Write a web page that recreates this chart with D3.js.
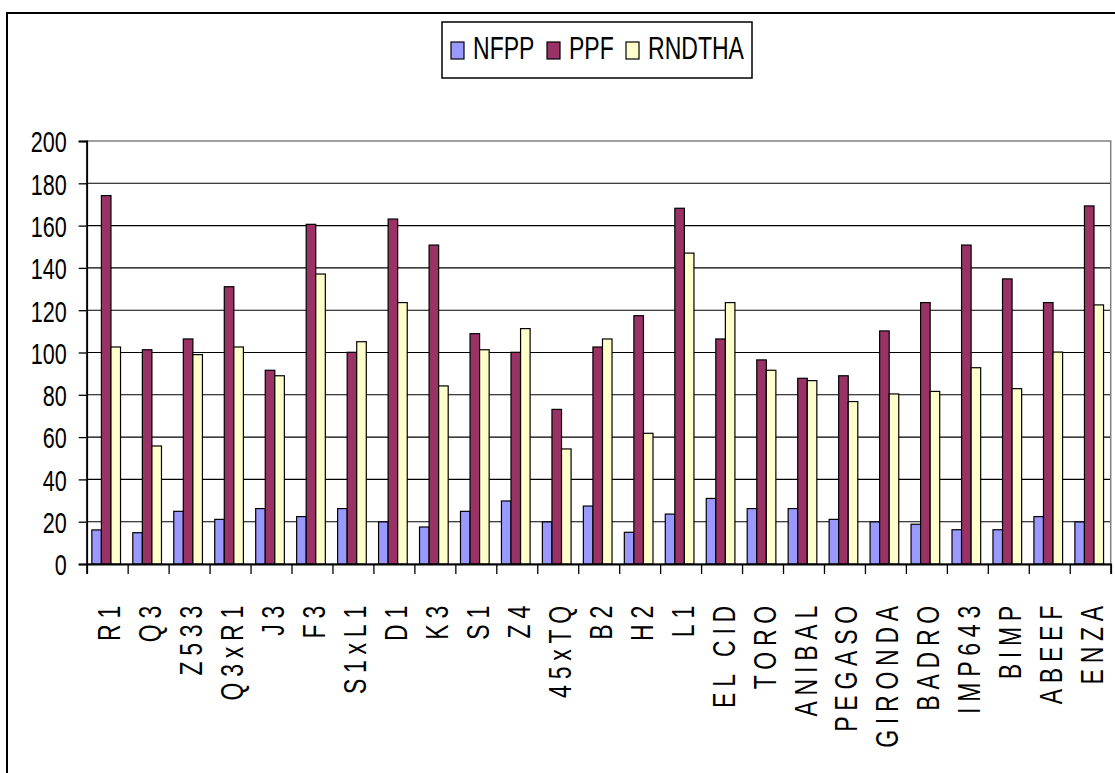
<!DOCTYPE html>
<html>
<head>
<meta charset="utf-8">
<script src="https://cdn.jsdelivr.net/npm/d3@7"></script>
<style>
  body { margin: 0; background: #fff; }
  svg { display: block; font-family: "Liberation Sans", Arial, sans-serif; }
</style>
</head>
<body>
<svg id="chart" width="1115" height="773"></svg>
<script>
var categories = ["R1", "Q3", "Z533", "Q3xR1", "J3", "F3", "S1xL1", "D1", "K3", "S1", "Z4", "45xTQ", "B2", "H2", "L1",
  "EL CID", "TORO", "ANIBAL", "PEGASO", "GIRONDA", "BADRO", "IMP643", "BIMP", "ABEEF", "ENZA"];

var seriesNames = ["NFPP", "PPF", "RNDTHA"];

var nfpp = [16.1, 14.8, 24.9, 21.1, 26.2, 22.4, 26.2, 19.9, 17.5, 24.9, 29.8, 19.9, 27.4, 15.0, 23.6,
  31.0, 26.2, 26.2, 21.1, 19.9, 18.8, 16.2, 16.2, 22.4, 19.9];
var ppf = [174.2, 101.3, 106.4, 131.1, 91.6, 160.6, 100.1, 163.1, 150.8, 108.9, 100.1, 73.1, 102.6, 117.4, 168.2,
  106.4, 96.5, 87.8, 89.0, 110.2, 123.6, 150.8, 134.8, 123.6, 169.3];
var rndtha = [102.6, 55.8, 99.0, 102.6, 89.0, 137.1, 105.1, 123.6, 84.2, 101.3, 111.3, 54.4, 106.4, 61.8, 147.0,
  123.6, 91.6, 86.7, 76.8, 80.4, 81.6, 92.8, 82.9, 100.2, 122.5];

var yTicks = [0, 20, 40, 60, 80, 100, 120, 140, 160, 180, 200];

var colors = ["#9999ff", "#993366", "#ffffcc"];
var squeeze = 0.72; // the original font is drawn narrow

var svg = d3.select("#chart");

// outer frame (only left and top edges are inside the picture)
svg.append("rect")
  .attr("x", 7).attr("y", 13)
  .attr("width", 1200).attr("height", 900)
  .attr("fill", "none").attr("stroke", "#000").attr("stroke-width", 2);

var plot = { left: 86.7, right: 1110.7, top: 141, bottom: 564 };

var x0 = d3.scaleBand()
  .domain(categories)
  .range([plot.left - 1, plot.right - 1])
  .paddingInner(0.3)
  .paddingOuter(0.15);

var x1 = d3.scaleBand()
  .domain(seriesNames)
  .range([0, x0.bandwidth()]);

var xEdges = d3.scaleLinear()
  .domain([0, categories.length])
  .range([plot.left, plot.right]);

var y = d3.scaleLinear()
  .domain([0, 200])
  .range([plot.bottom, plot.top]);

// gridlines
svg.append("g")
  .selectAll("line")
  .data(yTicks.filter(function (d) { return d > 0 && d < 200; }))
  .join("line")
  .attr("x1", plot.left).attr("x2", plot.right)
  .attr("y1", function (d) { return y(d); })
  .attr("y2", function (d) { return y(d); })
  .attr("stroke", "#000").attr("stroke-width", 1.1);

// plot area border
svg.append("rect")
  .attr("x", plot.left).attr("y", plot.top)
  .attr("width", plot.right - plot.left).attr("height", plot.bottom - plot.top)
  .attr("fill", "none").attr("stroke", "#808080").attr("stroke-width", 1.5);

// bars
var rows = categories.map(function (c, i) {
  return { cat: c, values: [nfpp[i], ppf[i], rndtha[i]] };
});

svg.append("g")
  .selectAll("g")
  .data(rows)
  .join("g")
  .attr("transform", function (d) { return "translate(" + x0(d.cat) + ",0)"; })
  .selectAll("rect")
  .data(function (d) {
    return d.values.map(function (v, k) { return { name: seriesNames[k], value: v, k: k }; });
  })
  .join("rect")
  .attr("x", function (d) { return x1(d.name); })
  .attr("y", function (d) { return y(d.value); })
  .attr("width", x1.bandwidth())
  .attr("height", function (d) { return y(0) - y(d.value); })
  .attr("fill", function (d) { return colors[d.k]; })
  .attr("stroke", "#000")
  .attr("stroke-width", 1.2);

// y axis
var yAxis = svg.append("g")
  .attr("transform", "translate(" + plot.left + ",0)")
  .call(d3.axisLeft(y).tickValues(yTicks).tickSize(8).tickPadding(12).tickFormat(d3.format("d")));
yAxis.select(".domain").attr("stroke", "#000").attr("stroke-width", 1.8);
yAxis.selectAll(".tick line").attr("stroke", "#000").attr("stroke-width", 1.3);
yAxis.selectAll(".tick text")
  .attr("fill", "#000")
  .attr("font-size", 30)
  .attr("dy", "0.36em")
  .attr("transform", function () {
    var tx = +d3.select(this).attr("x");
    return "translate(" + tx + ",0) scale(" + squeeze + ",1) translate(" + (-tx) + ",0)";
  });

// x axis: ticks between categories
var xAxis = svg.append("g")
  .attr("transform", "translate(0," + plot.bottom + ")")
  .call(d3.axisBottom(xEdges).tickValues(d3.range(0, categories.length + 1)).tickSize(10).tickFormat(""));
xAxis.select(".domain").attr("stroke", "#000").attr("stroke-width", 1.8);
xAxis.selectAll(".tick line").attr("stroke", "#000").attr("stroke-width", 1.3);

// category labels, rotated
svg.append("g")
  .selectAll("text")
  .data(categories)
  .join("text")
  .attr("transform", function (d) {
    var cx = x0(d) + x0.bandwidth() / 2 + 2.5;
    return "translate(" + cx + ",600) rotate(-90) scale(" + squeeze + ",1)";
  })
  .attr("text-anchor", "end")
  .attr("dy", "0.36em")
  .attr("font-size", 32)
  .attr("letter-spacing", 8)
  .attr("fill", "#000")
  .text(function (d) { return d; });

// legend
var legend = svg.append("g");
legend.append("rect")
  .attr("x", 442).attr("y", 22)
  .attr("width", 310).attr("height", 56)
  .attr("fill", "#fff").attr("stroke", "#000").attr("stroke-width", 1.5);

var legendX = [451, 547, 626];
var item = legend.selectAll("g.item")
  .data(seriesNames)
  .join("g")
  .attr("class", "item")
  .attr("transform", function (d, i) { return "translate(" + legendX[i] + ",0)"; });

item.append("rect")
  .attr("x", 0).attr("y", 42)
  .attr("width", 13).attr("height", 17)
  .attr("fill", function (d, i) { return colors[i]; })
  .attr("stroke", "#000").attr("stroke-width", 1.2);

item.append("text")
  .attr("transform", "translate(22,58.5) scale(" + squeeze + ",1)")
  .attr("font-size", 32)
  .attr("fill", "#000")
  .text(function (d) { return d; });
</script>
</body>
</html>
